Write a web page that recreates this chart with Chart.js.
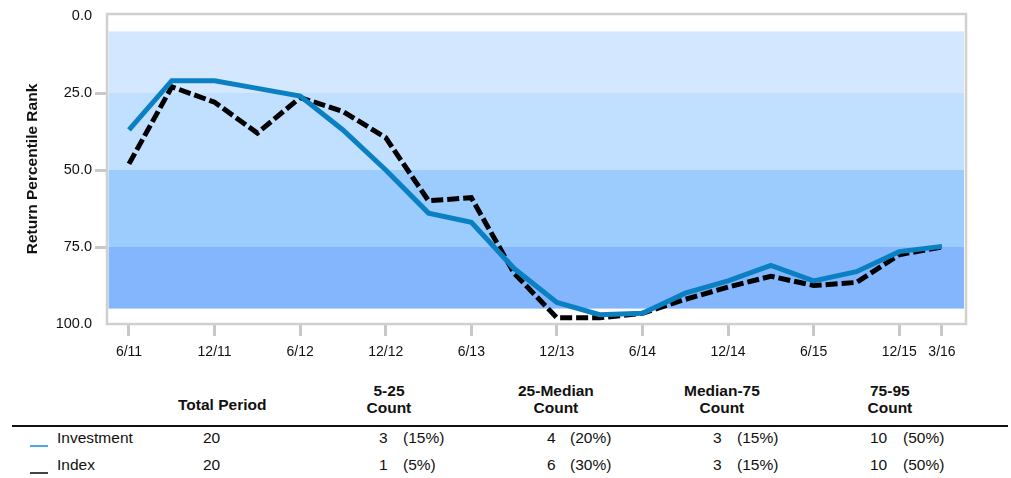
<!DOCTYPE html>
<html>
<head>
<meta charset="utf-8">
<script src="https://cdn.jsdelivr.net/npm/chart.js@4/dist/chart.umd.min.js"></script>
<style>
  body { margin: 0; background: #fff; font-family: "Liberation Sans", Arial, sans-serif; }
  #wrap { position: relative; width: 1011px; height: 478px; }
  #chartRank { position: absolute; left: 0; top: 0; }
  .t { position: absolute; white-space: nowrap; color: #111; font-size: 15.5px; line-height: 18px; }
  .b { font-weight: bold; }
</style>
</head>
<body>
<div id="wrap">
  <canvas id="chartRank" width="1011" height="362"></canvas>
</div>
<script>
// quarterly periods, 6/11 .. 3/16
const periods = ['6/11', '9/11', '12/11', '3/12', '6/12', '9/12', '12/12', '3/13', '6/13', '9/13',
                 '12/13', '3/14', '6/14', '9/14', '12/14', '3/15', '6/15', '9/15', '12/15', '3/16'];
const tickLabels = ['6/11', '12/11', '6/12', '12/12', '6/13', '12/13', '6/14', '12/14', '6/15', '12/15', '3/16'];
const investmentRank = [37, 21, 21, 23.5, 26, 37, 50, 64, 67, 82, 93, 97, 96.5, 90, 86, 81, 86, 83, 76.5, 74.8];
const indexRank = [48, 23, 28, 38, 26.5, 31, 39.5, 60, 59, 83.5, 98, 98, 96.5, 92, 88, 84.5, 87.5, 86.5, 77.5, 75];
const yTicks = [0, 25, 50, 75, 100];
const bandEdges = [5, 25, 50, 75, 95];
const bandColors = ['#d3e8fe', '#c1dffe', '#9ccbfd', '#84b6fe'];

// table below the chart
const columnTitles = [['5-25', 'Count'], ['25-Median', 'Count'], ['Median-75', 'Count'], ['75-95', 'Count']];
const seriesNames = ['Investment', 'Index'];
const totalPeriod = [20, 20];
const investmentCounts = [3, 4, 3, 10];
const indexCounts = [1, 6, 3, 10];

const bandsPlugin = {
    id: 'bands',
    beforeDatasetsDraw(chart) {
        const { ctx, chartArea: a, scales: { y } } = chart;
        ctx.save();
        for (let i = 0; i < bandColors.length; i++) {
            const y1 = y.getPixelForValue(bandEdges[i]);
            const y2 = y.getPixelForValue(bandEdges[i + 1]);
            ctx.fillStyle = bandColors[i];
            ctx.fillRect(a.left + 1.5, y1, a.right - a.left - 3.5, y2 - y1);
        }
        ctx.strokeStyle = '#d0d0d0';
        ctx.lineWidth = 2.5;
        ctx.strokeRect(a.left, a.top, a.right - a.left, a.bottom - a.top);
        ctx.restore();
    }
};

const xTickIdx = tickLabels.map(l => periods.indexOf(l));

new Chart(document.getElementById('chartRank'), {
    type: 'line',
    data: {
        datasets: [{
            label: 'Investment',
            data: investmentRank.map((v, i) => ({ x: i, y: v })),
            borderColor: '#0a80c2',
            borderWidth: 5,
            pointRadius: 0,
            tension: 0
        }, {
            label: 'Index',
            data: indexRank.map((v, i) => ({ x: i, y: v })),
            borderColor: '#000000',
            borderWidth: 5,
            borderDash: [12, 4],
            pointRadius: 0,
            tension: 0
        }]
    },
    options: {
        responsive: false,
        animation: false,
        layout: { padding: { top: 14, right: 45, left: 0, bottom: 0 } },
        plugins: { legend: { display: false }, tooltip: { enabled: false } },
        scales: {
            x: {
                type: 'linear',
                min: -0.514,
                max: 19.561,
                afterBuildTicks: (s) => { s.ticks = xTickIdx.map(v => ({ value: v })); },
                afterFit: (s) => { s.height = 38; },
                border: { display: false },
                grid: { drawOnChartArea: false, tickLength: 12, color: '#c8c8c8', lineWidth: 3 },
                ticks: {
                    autoSkip: false, maxRotation: 0, padding: 8, color: '#111',
                    font: { family: '"Liberation Sans", Arial, sans-serif', size: 14 },
                    callback: (v) => periods[v]
                }
            },
            y: {
                reverse: true,
                min: -0.65,
                max: 100,
                afterBuildTicks: (s) => { s.ticks = yTicks.map(v => ({ value: v })); },
                afterFit: (s) => { s.width = 107; },
                border: { display: false },
                grid: {
                    drawOnChartArea: false, tickLength: 12, lineWidth: 3,
                    color: (c) => (c.tick && (c.tick.value === 0 || c.tick.value === 100)) ? 'rgba(0,0,0,0)' : '#c8c8c8'
                },
                ticks: {
                    padding: 3, color: '#111',
                    font: { family: '"Liberation Sans", Arial, sans-serif', size: 14.5 },
                    callback: (v) => v.toFixed(1)
                },
                title: {
                    display: true, text: 'Return Percentile Rank', color: '#111',
                    padding: { top: 23, bottom: 0 },
                    font: { family: '"Liberation Sans", Arial, sans-serif', size: 15.5, weight: 'bold' }
                }
            }
        }
    },
    plugins: [bandsPlugin]
});

// table
const wrap = document.getElementById('wrap');
function put(text, x, y, align, bold) {
    const d = document.createElement('div');
    d.className = 't' + (bold ? ' b' : '');
    d.textContent = text;
    wrap.appendChild(d);
    const w = d.offsetWidth;
    const left = align === 'center' ? x - w / 2 : align === 'right' ? x - w : x;
    d.style.left = left + 'px';
    d.style.top = (y - 9) + 'px';
}
function hline(x1, x2, y, h, color) {
    const d = document.createElement('div');
    d.style.cssText = `position:absolute;left:${x1}px;top:${y}px;width:${x2 - x1}px;height:${h}px;background:${color}`;
    wrap.appendChild(d);
}

const colCenters = [389, 556, 722, 890];
const countRight = [388, 556, 722, 887];
const pctLeft = [403, 570, 737, 903];
put('Total Period', 222, 405, 'center', true);
columnTitles.forEach((t, i) => {
    put(t[0], colCenters[i], 391, 'center', true);
    put(t[1], colCenters[i], 408, 'center', true);
});
hline(12, 1008, 425, 2, '#111');

const rowY = [438, 465];
const swatch = ['#4aa8e2', '#444444'];
[investmentCounts, indexCounts].forEach((counts, r) => {
    hline(30, 48, rowY[r] + 7, 2, swatch[r]);
    put(seriesNames[r], 57, rowY[r], 'left');
    put(String(totalPeriod[r]), 203, rowY[r], 'left');
    counts.forEach((c, i) => {
        put(String(c), countRight[i], rowY[r], 'right');
        put('(' + Math.round(c / totalPeriod[r] * 100) + '%)', pctLeft[i], rowY[r], 'left');
    });
});
</script>
</body>
</html>
